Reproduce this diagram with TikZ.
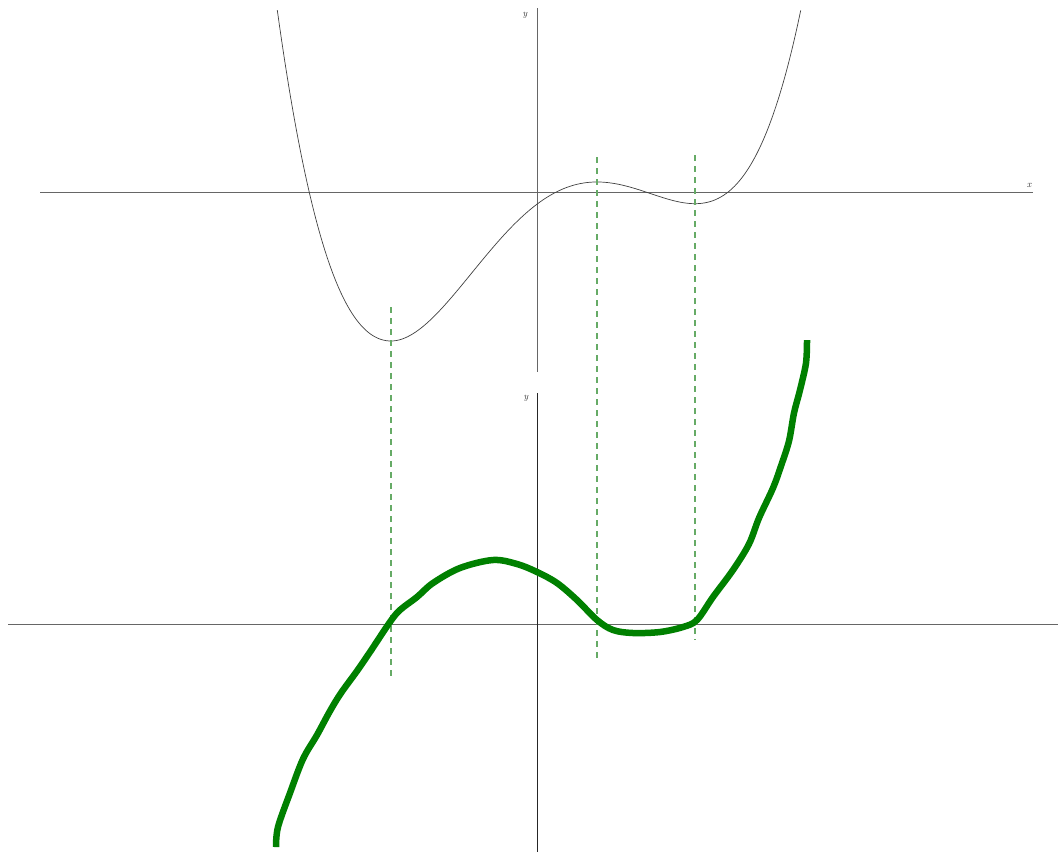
\documentclass[tikz,border=0pt]{standalone}
\begin{document}
\begin{tikzpicture}[x=1pt,y=-1pt,
  axis/.style={draw=black!60,line width=0.9pt},
  axisdark/.style={draw=black!85,line width=0.9pt},
  fcurve/.style={draw=black!75,line width=0.7pt},
  gcurve/.style={draw=green!50!black,line width=6.5pt,line join=round},
  guide/.style={draw=green!45!black!60,line width=1.3pt,dash pattern=on 6pt off 5pt},
  lbl/.style={font=\fontsize{9.5}{9.5}\selectfont\itshape,text=black!85,inner sep=0pt},
  declare function={Fq(\u)=\u*\u*\u*\u/4-0.24*\u*\u*\u-1.1174*\u*\u+1.38408*\u;}]
\useasboundingbox (0,0) rectangle (1058,852);
% top axes
\coordinate (tx0) at (40,192); \coordinate (tx1) at (1033,192);
\coordinate (ty0) at (537,8);  \coordinate (ty1) at (537,372);
\draw[axis] (tx0) -- (tx1);
\draw[axis] (ty0) -- (ty1);
\node[lbl] (tylabel) at (525,15) {y};
\node[lbl] (txlabel) at (1029,185) {x};
% bottom axes
\coordinate (bx0) at (8,624); \coordinate (bx1) at (1058,624);
\coordinate (by0) at (537,393); \coordinate (by1) at (537,852);
\draw[axis] (bx0) -- (bx1);
\draw[axisdark] (by0) -- (by1);
\node[lbl] (bylabel) at (526,398) {y};
% top curve (quartic)
\draw[fcurve,smooth] plot[domain=-2.597:-1.46,samples=50,variable=\u]
   ({537+100*\u},{341-47.5*(Fq(\u)+2.5199)})
  -- plot[domain=-1.46:2.638,samples=150,variable=\u]
   ({537+100*\u},{341-54.3*(Fq(\u)+2.5199)});
% dashed guides
\coordinate (g1a) at (391,307); \coordinate (g1b) at (391,680);
\coordinate (g2a) at (597,157); \coordinate (g2b) at (597,660);
\coordinate (g3a) at (695,155); \coordinate (g3b) at (695,640);
\draw[guide] (g1a) -- (g1b);
\draw[guide] (g2a) -- (g2b);
\draw[guide] (g3a) -- (g3b);
% green curve
\draw[gcurve] plot[smooth,tension=0.55] coordinates {
(276,847) (278,827) (290,793) (303,759) (317,735) (330,711) (341,693) (357,671)
(370,652) (390,622) (400,610) (417,597) (433,583) (460,568) (493,560) (517,564)
(537,572) (557,583) (577,600) (597,620) (613,630) (633,633) (660,632) (683,627)
(697,620) (713,597) (733,570) (749,544) (759,518) (773,488) (781,466) (789,441)
(794,413) (800,390) (806,363) (807,340)};
\end{tikzpicture}
\end{document}
